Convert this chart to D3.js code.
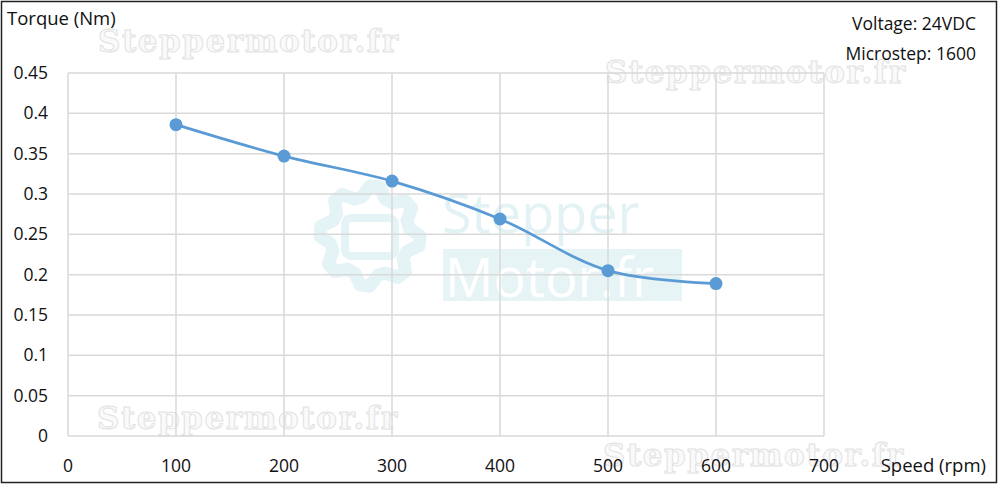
<!DOCTYPE html>
<html><head><meta charset="utf-8">
<script src="https://cdn.jsdelivr.net/npm/d3@7"></script>
<style>body{margin:0;background:#fff}svg{display:block}</style>
</head><body><svg id="c" width="1000" height="487"></svg>
<script>
const speeds = [100, 200, 300, 400, 500, 600];
const torque = [0.386, 0.347, 0.316, 0.269, 0.205, 0.189];
const xTicks = [0, 100, 200, 300, 400, 500, 600, 700];
const yTicks = [0, 0.05, 0.1, 0.15, 0.2, 0.25, 0.3, 0.35, 0.4, 0.45];
const yLabel = "Torque (Nm)";
const xLabel = "Speed (rpm)";
const notes = ["Voltage: 24VDC", "Microstep: 1600"];
const watermark = "Steppermotor.fr";

const FONT = "'Open Sans','Noto Sans',sans-serif";
const svg = d3.select("#c");
const x = d3.scaleLinear().domain([0, 700]).range([68, 824]);
const y = d3.scaleLinear().domain([0, 0.45]).range([436, 73]);

svg.append("rect").attr("x",1.5).attr("y",1.5).attr("width",995).attr("height",481)
  .attr("fill","#fff").attr("stroke","#222").attr("stroke-width",1.5);

// center logo watermark
const gear = [];
const nT = 8;
for (let i = 0; i < nT*4; i++) {
  const a = (i/(nT*4))*2*Math.PI;
  const r = (i%4===0||i%4===1) ? 50 : 40;
  gear.push([370 + r*Math.cos(a), 236 + r*Math.sin(a)]);
}
svg.append("path").attr("d", d3.line().curve(d3.curveLinearClosed)(gear))
  .attr("fill","none").attr("stroke","#e4f3f5").attr("stroke-width",13).attr("stroke-linejoin","round");
svg.append("rect").attr("x",345).attr("y",218).attr("width",50).attr("height",38).attr("rx",6)
  .attr("fill","none").attr("stroke","#e4f3f5").attr("stroke-width",8);
svg.append("rect").attr("x",443).attr("y",249).attr("width",239).attr("height",52).attr("fill","#e6f4f6");
svg.append("text").attr("x",442).attr("y",233).attr("fill","#e3f2f5")
  .style("font-family",FONT).style("font-size","54px").text("Stepper");
svg.append("text").attr("x",445).attr("y",297).attr("fill","#fff")
  .style("font-family",FONT).style("font-size","54px").text("Motor.fr");

// text watermarks
[[98,52],[605,83],[97,429],[603,466]].forEach(p=>svg.append("text").attr("x",p[0]).attr("y",p[1])
  .attr("fill","#fafafa").attr("stroke","#e2e2e2").attr("stroke-width",1)
  .style("font-family","'DejaVu Serif','Liberation Serif',serif").style("font-weight","bold")
  .style("font-size","31px").attr("textLength",300).text(watermark));

// grid
const g = svg.append("g");
g.selectAll("line.v").data(xTicks).join("line")
  .attr("x1",d=>x(d)).attr("x2",d=>x(d)).attr("y1",y(0.45)).attr("y2",y(0))
  .attr("stroke","#d9d9d9").attr("stroke-width",1.5);
g.selectAll("line.h").data(yTicks).join("line")
  .attr("x1",x(0)).attr("x2",x(700)).attr("y1",d=>y(d)).attr("y2",d=>y(d))
  .attr("stroke","#d9d9d9").attr("stroke-width",1.5);

// labels
const fmt = d => String(+d.toFixed(2));
svg.selectAll("text.yt").data(yTicks).join("text")
  .attr("x",48).attr("y",d=>y(d)+6).attr("text-anchor","end")
  .attr("fill","#111").style("font-family",FONT).style("font-size","17.5px").text(fmt);
svg.selectAll("text.xt").data(xTicks).join("text")
  .attr("x",d=>x(d)).attr("y",472).attr("text-anchor","middle")
  .attr("fill","#111").style("font-family",FONT).style("font-size","17.5px").text(d=>d);
svg.append("text").attr("x",7).attr("y",25).attr("fill","#111")
  .style("font-family",FONT).style("font-size","18.5px").text(yLabel);
svg.append("text").attr("x",986).attr("y",472).attr("text-anchor","end").attr("fill","#111")
  .style("font-family",FONT).style("font-size","18.5px").text(xLabel);
notes.forEach((t,i)=>svg.append("text").attr("x",976).attr("y",30+i*30).attr("text-anchor","end")
  .attr("fill","#111").style("font-family",FONT).style("font-size","17.5px").text(t));

// line
const pts = speeds.map((s,i)=>[s,torque[i]]);
svg.append("path").datum(pts)
  .attr("d", d3.line().x(d=>x(d[0])).y(d=>y(d[1])).curve(d3.curveCatmullRom.alpha(0.5)))
  .attr("fill","none").attr("stroke","#5b9bd5").attr("stroke-width",2.75);
svg.selectAll("circle.p").data(pts).join("circle")
  .attr("cx",d=>x(d[0])).attr("cy",d=>y(d[1])).attr("r",6.5).attr("fill","#5b9bd5");
</script></body></html>
